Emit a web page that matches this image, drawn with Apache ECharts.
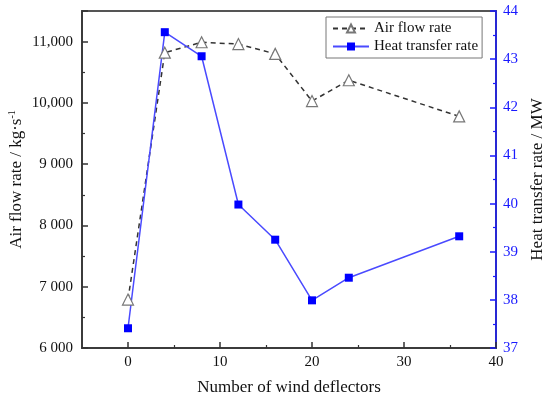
<!DOCTYPE html>
<html>
<head>
<meta charset="utf-8">
<script src="https://cdn.jsdelivr.net/npm/echarts@6/dist/echarts.min.js"></script>
<style>html,body{margin:0;padding:0;background:#fff;}#c{width:550px;height:398px;}</style>
</head>
<body>
<div id="c"></div>
<script>
var deflectors = [0, 4, 8, 12, 16, 20, 24, 36];
var airFlow = [6790, 10820, 10990, 10960, 10800, 10030, 10370, 9780];
var heatTransfer = [37.41, 43.56, 43.06, 39.98, 39.25, 37.99, 38.46, 39.32];
var xTickValues = [0, 10, 20, 30, 40];
var xMinorTickValues = [5, 15, 25, 35];
var leftTickValues = [6000, 7000, 8000, 9000, 10000, 11000];
var leftTickLabels = ['6 000', '7 000', '8 000', '9 000', '10,000', '11,000'];

var FONT = '"Liberation Serif", "Times New Roman", serif';
var chart = echarts.init(document.getElementById('c'));
chart.setOption({
  animation: false,
  backgroundColor: '#fff',
  grid: { left: 82, right: 54, top: 11, bottom: 50, outerBoundsMode: 'none', containLabel: false,
    show: true, borderColor: '#555', borderWidth: 2, backgroundColor: 'transparent' },
  legend: {
    left: 326, top: 17, orient: 'vertical', itemGap: 3, itemWidth: 36, itemHeight: 10,
    padding: [4, 4, 4, 6], borderColor: '#777', borderWidth: 1,
    textStyle: { fontFamily: FONT, fontSize: 15, color: '#111' },
    data: ['Air flow rate', 'Heat transfer rate']
  },
  xAxis: [{
    type: 'value', min: -5, max: 40,
    name: 'Number of wind deflectors', nameLocation: 'middle', nameGap: 31,
    nameTextStyle: { fontFamily: FONT, fontSize: 17, color: '#111' },
    axisLine: { onZero: false, lineStyle: { color: '#333', width: 1.5 } },
    axisTick: { inside: true, length: 6, customValues: xTickValues, lineStyle: { color: '#333', width: 1.5 } },
    axisLabel: { customValues: xTickValues, fontFamily: FONT, fontSize: 15, color: '#111', margin: 7 },
    splitLine: { show: false }
  }, {
    type: 'value', min: -5, max: 40, position: 'bottom', gridIndex: 0,
    axisLine: { show: false, onZero: false },
    axisTick: { inside: true, length: 3, customValues: xMinorTickValues, lineStyle: { color: '#333', width: 1.2 } },
    axisLabel: { show: false },
    splitLine: { show: false }
  }],
  yAxis: [{
    type: 'value', min: 6000, max: 11500, interval: 1000, position: 'left',
    name: '{a|Air flow rate / kg·s}{b|-1}', nameLocation: 'middle', nameGap: 56, nameMoveOverlap: false,
    nameTextStyle: { fontFamily: FONT, fontSize: 17, color: '#111',
      rich: { a: { fontFamily: FONT, fontSize: 17, color: '#111' }, b: { fontFamily: FONT, fontSize: 10, color: '#111', padding: [0, 0, 9, 0] } } },
    axisLine: { show: true, onZero: false, lineStyle: { color: '#333', width: 1.5 } },
    axisTick: { inside: true, length: 6, lineStyle: { color: '#333', width: 1.5 } },
    minorTick: { show: true, splitNumber: 2, length: 3, lineStyle: { color: '#333', width: 1.2 } },
    axisLabel: { showMaxLabel: false, fontFamily: FONT, fontSize: 15, color: '#111', margin: 9,
      formatter: function (v) { var i = leftTickValues.indexOf(v); return i >= 0 ? leftTickLabels[i] : ''; } },
    splitLine: { show: false }
  }, {
    type: 'value', min: 37, max: 44, interval: 1, position: 'right',
    name: 'Heat transfer rate / MW', nameLocation: 'middle', nameGap: 33, nameRotate: 90,
    nameTextStyle: { fontFamily: FONT, fontSize: 17, color: '#111' },
    axisLine: { show: true, onZero: false, lineStyle: { color: '#1a1aff', width: 1.5 } },
    axisTick: { inside: true, length: 6, lineStyle: { color: '#1a1aff', width: 1.5 } },
    minorTick: { show: true, splitNumber: 2, length: 3, lineStyle: { color: '#1a1aff', width: 1.2 } },
    axisLabel: { fontFamily: FONT, fontSize: 15, color: '#1a1aff', margin: 7 },
    splitLine: { show: false }
  }],
  series: [{
    name: 'Air flow rate', type: 'line', xAxisIndex: 0, yAxisIndex: 0,
    data: deflectors.map(function (x, i) { return [x, airFlow[i]]; }),
    symbol: 'triangle', symbolSize: 11, showAllSymbol: true,
    lineStyle: { color: '#333', width: 1.5, type: [5, 4] },
    itemStyle: { color: '#fff', borderColor: '#777', borderWidth: 1.2 }
  }, {
    name: 'Heat transfer rate', type: 'line', xAxisIndex: 0, yAxisIndex: 1,
    data: deflectors.map(function (x, i) { return [x, heatTransfer[i]]; }),
    symbol: 'rect', symbolSize: 8, showAllSymbol: true,
    lineStyle: { color: '#4a4aff', width: 1.5 },
    itemStyle: { color: '#0000ff', borderColor: '#0000ff', borderWidth: 0 }
  }]
});
</script>
</body>
</html>
